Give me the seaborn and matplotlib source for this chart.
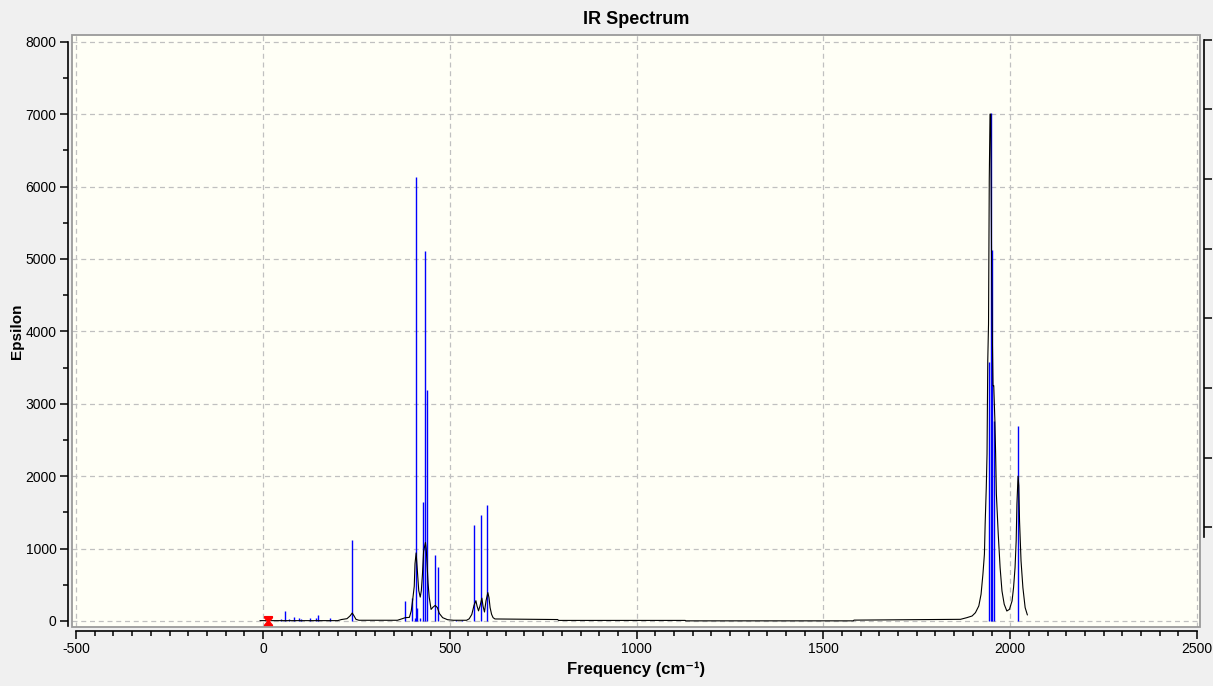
import numpy as np
import pandas as pd
import matplotlib
matplotlib.use("Agg")
import matplotlib.pyplot as plt
from matplotlib.path import Path
from matplotlib.patches import Rectangle
from matplotlib.ticker import MultipleLocator, FixedLocator
import seaborn as sns

# ---- data ----
stick_freq = [49, 60, 70, 84, 97, 102, 126, 143, 148, 180, 239,
              381, 399, 407, 410, 413, 421, 429, 434, 440, 461, 469,
              518, 534, 565, 584, 600,
              1942, 1948, 1951, 1956, 2020]
stick_eps = [32, 138, 32, 55, 44, 28, 41, 41, 83, 41, 1121,
             277, 322, 40, 6136, 185, 46, 1647, 5107, 3197, 913, 750,
             10, 12, 1329, 1467, 1605,
             3580, 7013, 5121, 2768, 2699]

curve_freq = [-8, 200, 210, 225, 233, 239, 244, 249, 257, 360, 372, 381, 392, 397,
              401, 405, 407, 410, 413, 417, 421, 424, 427, 430, 432, 435, 437, 440,
              442, 445, 450, 455, 461, 467, 472, 481, 494, 510, 545, 552, 559, 565,
              570, 573, 577, 581, 586, 589, 593, 597, 602, 605, 608, 612, 616, 621,
              789, 791, 1130, 1132, 1580, 1582, 1867, 1884, 1898, 1907, 1916, 1922,
              1927, 1931, 1933, 1936, 1938, 1940, 1942, 1944, 1946, 1948, 1950,
              1952, 1954, 1956, 1959, 1961, 1963, 1968, 1973, 1978, 1984, 1991,
              1998, 2005, 2009, 2013, 2016, 2018, 2021, 2023, 2025, 2029, 2034,
              2040, 2046]
curve_eps = [5, 5, 20, 32, 69, 110, 69, 23, 10, 10, 30, 46, 50, 140,
             300, 480, 790, 940, 720, 420, 330, 420, 650, 960, 1010, 1085, 1000, 720,
             520, 330, 160, 190, 215, 185, 105, 46, 18, 10, 10, 30, 90, 217,
             280, 208, 140, 208, 316, 208, 124, 277, 392, 323, 185, 92, 46, 28,
             20, 8, 8, 2, 2, 12, 23, 46, 69, 115, 208, 369,
             646, 923, 1343, 1845, 2307, 3600, 4100, 6100, 7000, 7000, 5100,
             4000, 3250, 3250, 2768, 2307, 1753, 1200, 738, 415, 231, 138,
             161, 277, 461, 738, 1107, 1615, 2000, 1868, 1384, 830, 461,
             185, 83]

marker_freq = [14]
marker_eps = [0]

x_ticks = [-500, 0, 500, 1000, 1500, 2000, 2500]
y_ticks = [0, 1000, 2000, 3000, 4000, 5000, 6000, 7000, 8000]

# ---- styling ----
sns.set_theme(style="white")
plt.rcParams['font.family'] = ['Liberation Sans', 'DejaVu Sans']
plt.rcParams['text.color'] = 'black'
plt.rcParams['axes.labelcolor'] = 'black'

fig = plt.figure(figsize=(12.13, 6.86), dpi=100, facecolor='#f0f0f0')
ax = fig.add_axes([72/1213, 1-627/686, (1200-72)/1213, (627-35)/686])
ax.set_facecolor('#fffff6')

ax.set_xlim(-511, 2508)
ax.set_ylim(-83, 8093)

# grid
for xv in x_ticks:
    ax.axvline(xv, color='#c0c0c0', lw=0.9, ls=(0, (4, 3)), zorder=0.5)
for yv in y_ticks:
    ax.axhline(yv, color='#c0c0c0', lw=0.9, ls=(0, (4, 3)), zorder=0.5)

# sticks
ax.vlines(stick_freq, 0, stick_eps, color='#0000ff', lw=1.0, zorder=2)

# convolved spectrum
df = pd.DataFrame({'freq': curve_freq, 'eps': curve_eps})
sns.lineplot(data=df, x='freq', y='eps', sort=False, color='black', lw=0.8,
             ax=ax, zorder=3, estimator=None)

# red marker (hourglass)
verts = [(-0.8, 1), (0.8, 1), (0.8, 0.75), (0.15, 0), (0.8, -0.75), (0.8, -1),
         (-0.8, -1), (-0.8, -0.75), (-0.15, 0), (-0.8, 0.75), (-0.8, 1)]
hour = Path(verts, [Path.MOVETO] + [Path.LINETO] * 9 + [Path.CLOSEPOLY])
ax.plot(marker_freq, marker_eps, marker=hour, ms=7, color='#ff0000', ls='none',
        zorder=4, clip_on=False)

# frame
ax.add_patch(Rectangle((0, 0), 1, 1, transform=ax.transAxes, fill=False,
                       edgecolor='#9a9a9a', lw=1.3, zorder=5, clip_on=False))

# spines as separate axes
for s in ['top', 'right']:
    ax.spines[s].set_visible(False)
ax.spines['left'].set_position(('outward', 3))
ax.spines['bottom'].set_position(('outward', 3))
for s in ['left', 'bottom']:
    ax.spines[s].set_color('black')
    ax.spines[s].set_linewidth(1.2)
ax.spines['left'].set_bounds(-70, 8000)
ax.spines['bottom'].set_bounds(-500, 2500)

ax.xaxis.set_major_locator(FixedLocator(x_ticks))
ax.xaxis.set_minor_locator(MultipleLocator(50))
ax.yaxis.set_major_locator(FixedLocator(y_ticks))
ax.yaxis.set_minor_locator(MultipleLocator(500))
ax.tick_params(axis='both', which='major', direction='out', length=6, width=1.1,
               color='black', labelsize=10, labelcolor='black', pad=2,
               bottom=True, left=True)
ax.tick_params(axis='both', which='minor', direction='out', length=3.5, width=1.1,
               color='black', bottom=True, left=True)
ax.set_xticklabels([str(v) for v in x_ticks])
ax.set_yticklabels([str(v) for v in y_ticks])

ax.set_xlabel('Frequency (cm\u207b\u00b9)', fontsize=12, fontweight='bold',
              labelpad=4, color='black')
ax.set_ylabel('Epsilon', fontsize=11, fontweight='bold', labelpad=1,
              color='black')
ax.set_title('IR Spectrum', fontsize=13, fontweight='bold', pad=8,
             color='black')

# right-hand secondary axis (ticks only)
ax2 = ax.twinx()
ax2.set_ylim(-0.431, 8.068)
for s in ['top', 'left', 'bottom']:
    ax2.spines[s].set_visible(False)
ax2.spines['right'].set_position(('outward', 3))
ax2.spines['right'].set_color('black')
ax2.spines['right'].set_linewidth(1.2)
ax2.spines['right'].set_bounds(0.86, 8)
ax2.yaxis.set_major_locator(FixedLocator([1, 2, 3, 4, 5, 6, 7, 8]))
ax2.tick_params(axis='y', which='major', direction='out', length=6, width=1.1,
                color='black', labelright=False, right=True)
ax2.grid(False)

fig.savefig('out.png', dpi=100, facecolor=fig.get_facecolor())
